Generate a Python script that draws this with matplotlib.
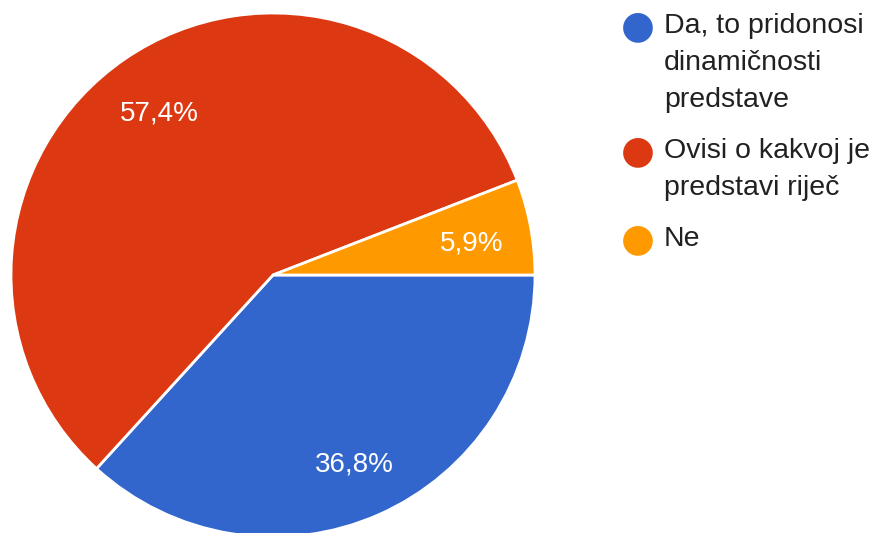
import numpy as np
import matplotlib.pyplot as plt

#   Datos
labels = ["Da, to pridonosi\ndinamičnosti\npredstave",
          "Ovisi o kakvoj je\npredstavi riječ",
          "Ne"]
values = [36.8, 57.4, 5.9]
colors = ["#3366CC", "#DC3912", "#FF9900"]

plt.rcParams['font.family'] = ['Liberation Sans', 'DejaVu Sans']

W, H = 877, 533
fig = plt.figure(figsize=(W / 100, H / 100), dpi=100)

#   Pita
cx, cy, r = 273, 533 - 275, 262
ax = fig.add_axes([(cx - r) / W, (cy - r) / H, 2 * r / W, 2 * r / H])

wedges, texts = ax.pie(values, colors=colors, startangle=0,
                       counterclock=False,
                       wedgeprops=dict(edgecolor="white", linewidth=2))
for w, v in zip(wedges, values):
    ang = np.deg2rad((w.theta1 + w.theta2) / 2)
    ax.text(0.77 * np.cos(ang), 0.77 * np.sin(ang) - 0.02,
            ("%.1f%%" % v).replace(".", ","), color="white", fontsize=20,
            ha="center", va="center")
ax.set_xlim(-1, 1)
ax.set_ylim(-1, 1)
ax.set_aspect("equal")
ax.axis("off")

#   Leyenda
y = 26
for lab, c in zip(labels, colors):
    fig.text(638 / W, 1 - y / H, "\u25CF", color=c, fontsize=28,
             ha="center", va="center", family="DejaVu Sans")
    for line in lab.split("\n"):
        fig.text(664 / W, 1 - y / H, line, color="#212121", fontsize=20.5,
                 ha="left", va="center")
        y += 37
    y += 14

fig.savefig("out.png", dpi=100)
